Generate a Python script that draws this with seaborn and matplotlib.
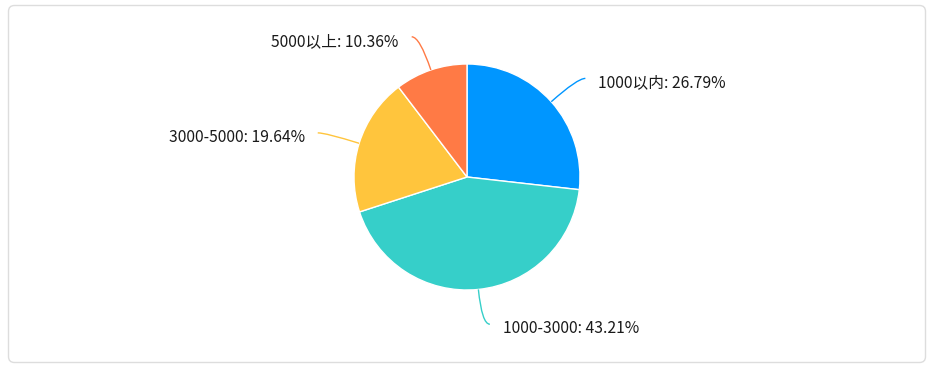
import numpy as np
import matplotlib
matplotlib.use('Agg')
import matplotlib.pyplot as plt
from matplotlib.path import Path
from matplotlib.patches import PathPatch, FancyBboxPatch
import seaborn as sns

# dados
categorias = ['1000以内', '1000-3000', '3000-5000', '5000以上']
percentuais = [26.79, 43.21, 19.64, 10.36]
cores = ['#0096FF', '#36CFC9', '#FFC53D', '#FF7A45']

sns.set_theme(style='white')
plt.rcParams['font.family'] = ['Noto Sans CJK SC', 'DejaVu Sans']

W, H = 937, 370
fig = plt.figure(figsize=(W / 100, H / 100), dpi=100)
ax = fig.add_axes([0, 0, 1, 1])

# moldura do cartao
card = FancyBboxPatch((8.5, H - 362.5), 917, 357,
                      boxstyle='round,pad=0,rounding_size=6',
                      fc='white', ec='#dddddd', lw=1, zorder=0)
ax.add_patch(card)

cx, cy, r = 467, H - 177, 113
wedges, _ = ax.pie(percentuais, colors=cores, startangle=90, counterclock=False,
                   center=(cx, cy), radius=r, frame=True,
                   wedgeprops=dict(edgecolor='white', linewidth=1))

# linhas-guia e rotulos
for w, cat, p, c in zip(wedges, categorias, percentuais, cores):
    ang = np.deg2rad((w.theta1 + w.theta2) / 2)
    ca, sa = np.cos(ang), np.sin(ang)
    p0 = (cx + r * ca, cy + r * sa)
    p1 = (cx + (r + 35) * ca, cy + (r + 35) * sa)
    lado = 1 if ca >= 0 else -1
    p2 = (p1[0] + 8 * lado, p1[1])
    path = Path([p0, p1, p2], [Path.MOVETO, Path.CURVE3, Path.CURVE3])
    ax.add_patch(PathPatch(path, fill=False, ec=c, lw=1))
    ax.text(p2[0] + 13 * lado, p2[1] - 4.5, f'{cat}: {p:.2f}%',
            ha='left' if lado > 0 else 'right', va='center',
            fontsize=11.3, color='#1a1a1a')

ax.set_xlim(0, W)
ax.set_ylim(0, H)
ax.axis('off')

fig.savefig('out.png', dpi=100)
